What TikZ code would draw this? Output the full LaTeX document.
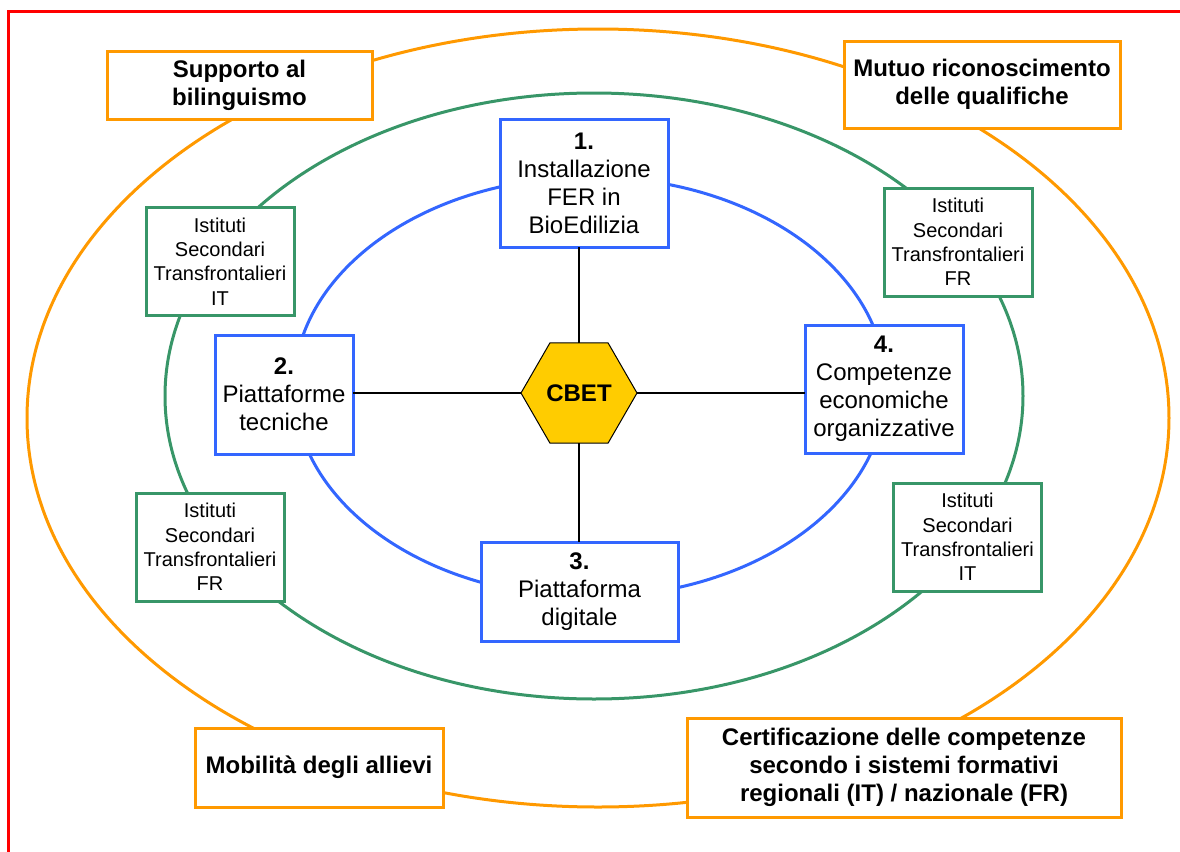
\documentclass[tikz,border=0pt]{standalone}
\usepackage{fontspec}
\setmainfont{Liberation Sans}
\definecolor{frame}{RGB}{255,0,0}
\definecolor{ringO}{RGB}{255,153,0}
\definecolor{ringG}{RGB}{56,150,104}
\definecolor{ringB}{RGB}{51,102,255}
\definecolor{hexfill}{RGB}{255,204,0}
\usetikzlibrary{shapes.geometric}
\tikzstyle{base}=[x=0.5pt, y=-0.5pt, inner sep=0pt, outer sep=0pt]
\tikzstyle{ring}=[line width=1.5pt]
\tikzstyle{goalbox}=[draw=ringO, line width=1.5pt, fill=white, align=center, font=\fontsize{12pt}{14pt}\selectfont\bfseries]
\tikzstyle{areabox}=[draw=ringB, line width=1.5pt, fill=white, align=center, font=\fontsize{12pt}{14pt}\selectfont]
\tikzstyle{schoolbox}=[draw=ringG, line width=1.5pt, fill=white, align=center, font=\fontsize{10pt}{12.2pt}\selectfont, minimum width=74pt, minimum height=54pt]
\tikzstyle{hexagon}=[regular polygon, regular polygon sides=6, minimum size=58pt, draw=black, line width=0.5pt, fill=hexfill, font=\fontsize{12pt}{14pt}\selectfont\bfseries]
\tikzstyle{spoke}=[black, line width=1pt]

\begin{document}
\begin{tikzpicture}[base]
    \useasboundingbox (0,0) rectangle (1180,852);
    \draw [frame, line width=1.5pt] (1180,11.5) -- (8.5,11.5) -- (8.5,852);
    \draw [ring, ringO] (598,418) ellipse [x radius=571, y radius=389];
    \draw [ring, ringG] (594,396) ellipse [x radius=429, y radius=303];
    \draw [ring, ringB] (590,387) ellipse [x radius=296, y radius=210];

    \node [hexagon] (cbet) at (579,393) {CBET};

    \node [areabox, minimum width=84pt, minimum height=64pt] (fer) at (584,183) {\textbf{1.}\\Installazione\\FER in\\BioEdilizia};
    \node [areabox, minimum width=69pt, minimum height=59.5pt] (tech) at (284,394.5) {\textbf{2.}\\Piattaforme\\tecniche};
    \node [areabox, minimum width=98.5pt, minimum height=49.5pt] (digi) at (579.5,591.5) {\textbf{3.}\\Piattaforma\\digitale};
    \node [areabox, minimum width=79pt, minimum height=64pt] (econ) at (884,389) {\textbf{4.}\\Competenze\\economiche\\organizzative};

    \draw [spoke] (cbet.north) -- (cbet.north |- fer.south);
    \draw [spoke] (cbet.south) -- (cbet.south |- digi.north);
    \draw [spoke] (cbet.west) -- (cbet.west -| tech.east);
    \draw [spoke] (cbet.east) -- (cbet.east -| econ.west);

    \node [schoolbox] (itnw) at (220,261.5) {Istituti\\Secondari\\Transfrontalieri\\IT};
    \node [schoolbox] (frsw) at (210,547) {Istituti\\Secondari\\Transfrontalieri\\FR};
    \node [schoolbox] (frne) at (958,242) {Istituti\\Secondari\\Transfrontalieri\\FR};
    \node [schoolbox] (itse) at (967.5,537) {Istituti\\Secondari\\Transfrontalieri\\IT};

    \node [goalbox, minimum width=132.5pt, minimum height=34pt] (biling) at (239.5,85) {Supporto al\\bilinguismo};
    \node [goalbox, minimum width=138pt, minimum height=43.5pt] (mutuo) at (982,84.5) {Mutuo riconoscimento\\delle qualifiche};
    \node [goalbox, minimum width=124pt, minimum height=39.5pt] (mobil) at (319,767.5) {Mobilità degli allievi};
    \node [goalbox, minimum width=217pt, minimum height=49.5pt] (certif) at (904,767.5) {Certificazione delle competenze\\secondo i sistemi formativi\\regionali (IT) / nazionale (FR)};
\end{tikzpicture}
\end{document}
